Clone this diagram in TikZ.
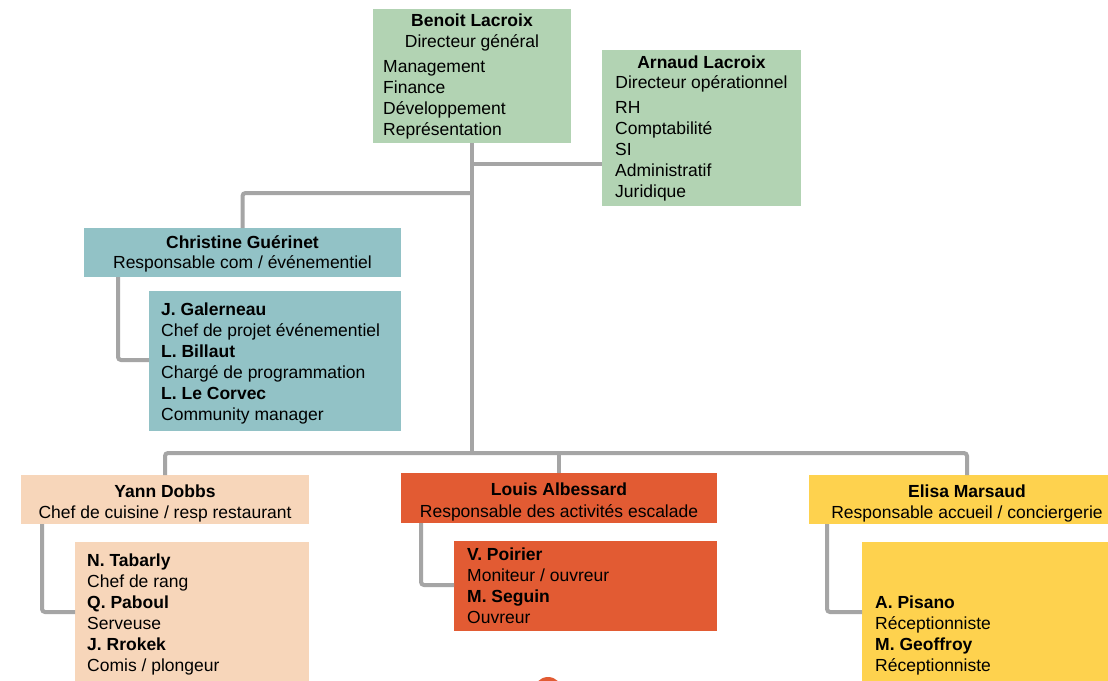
\documentclass[tikz,border=0pt]{standalone}
\usepackage{fontspec}
\setmainfont{Liberation Sans}
\usetikzlibrary{calc}
\definecolor{dirgreen}{RGB}{178,211,179}
\definecolor{comteal}{RGB}{146,194,198}
\definecolor{chefpeach}{RGB}{247,214,186}
\definecolor{escred}{RGB}{226,91,51}
\definecolor{accyellow}{RGB}{254,210,78}
\definecolor{linkgray}{RGB}{165,165,165}
\begin{document}
\begin{tikzpicture}[x=1pt,y=-1pt,
  box/.style={rectangle,inner sep=0pt,outer sep=0pt,anchor=north west},
  txt/.style={inner sep=0pt,font=\fontsize{17.5}{21}\selectfont},
  link/.style={draw=linkgray,line width=4pt,rounded corners=3pt}]
\clip (0,0) rectangle (1108,680);
\fill[white] (0,0) rectangle (1108,680);
\node[box,fill=dirgreen,minimum width=198pt,minimum height=134pt] (ceo) at (373,9) {};
\node[txt,anchor=base] (ceoname) at (472,27) {\bfseries Benoit Lacroix};
\node[txt,anchor=base] (ceorole) at (472,47) {Directeur général};
\node[txt,anchor=base west,align=left] (ceotasks) at (383,135.5) {Management\\Finance\\Développement\\Représentation};
\node[box,fill=dirgreen,minimum width=199pt,minimum height=156pt] (coo) at (602,50) {};
\node[txt,anchor=base] (cooname) at (701.5,68) {\bfseries Arnaud Lacroix};
\node[txt,anchor=base] (coorole) at (701.5,88) {Directeur opérationnel};
\node[txt,anchor=base west,align=left] (cootasks) at (615,197) {RH\\Comptabilité\\SI\\Administratif\\Juridique};
\node[box,fill=comteal,minimum width=317pt,minimum height=49pt] (com) at (84,228) {};
\node[txt,anchor=base] (comname) at (242.5,248) {\bfseries Christine Guérinet};
\node[txt,anchor=base] (comrole) at (242.5,268) {Responsable com / événementiel};
\node[box,fill=comteal,minimum width=252pt,minimum height=140pt] (comteam) at (149,291) {};
\node[txt,anchor=base west,align=left] (comlist) at (161,420) {\bfseries J. Galerneau\\Chef de projet événementiel\\\bfseries L. Billaut\\Chargé de programmation\\\bfseries L. Le Corvec\\Community manager};
\node[box,fill=chefpeach,minimum width=288pt,minimum height=49pt] (chef) at (21,475) {};
\node[txt,anchor=base] (chefname) at (165,497) {\bfseries Yann Dobbs};
\node[txt,anchor=base] (chefrole) at (165,518) {Chef de cuisine / resp restaurant};
\node[box,fill=chefpeach,minimum width=234pt,minimum height=140pt] (chefteam) at (75,542) {};
\node[txt,anchor=base west,align=left] (cheflist) at (87,671) {\bfseries N. Tabarly\\Chef de rang\\\bfseries Q. Paboul\\Serveuse\\\bfseries J. Rrokek\\Comis / plongeur};
\node[box,fill=escred,minimum width=316pt,minimum height=50pt] (esc) at (401,473) {};
\node[txt,anchor=base] (escname) at (559,495) {\bfseries Louis Albessard};
\node[txt,anchor=base] (escrole) at (559,517) {Responsable des activités escalade};
\node[box,fill=escred,minimum width=263pt,minimum height=90pt] (escteam) at (454,541) {};
\node[txt,anchor=base west,align=left] (esclist) at (467,623) {\bfseries V. Poirier\\Moniteur / ouvreur\\\bfseries M. Seguin\\Ouvreur};
\node[box,fill=accyellow,minimum width=316pt,minimum height=49pt] (acc) at (809,475) {};
\node[txt,anchor=base] (accname) at (967,497) {\bfseries Elisa Marsaud};
\node[txt,anchor=base] (accrole) at (967,518) {Responsable accueil / conciergerie};
\node[box,fill=accyellow,minimum width=262pt,minimum height=140pt] (accteam) at (862,542) {};
\node[txt,anchor=base west,align=left] (acclist) at (875,671) {\bfseries A. Pisano\\Réceptionniste\\\bfseries M. Geoffroy\\Réceptionniste};
\fill[escred] (548,691) circle (14);
\coordinate (bus) at (472,453);
\coordinate (cooj) at (472,164);
\coordinate (comj) at (472,193);
\draw[link] (ceo.south) -- (bus);
\draw[link] (cooj) -- (cooj -| coo.west);
\draw[link] (comj) -| (com.north);
\draw[link] (chef.north) |- (bus) -| (acc.north);
\draw[link] (bus -| esc.north) -- (esc.north);
\draw[link] ($(com.south west)+(34,0)$) |- ($(comteam.north west)+(0,69)$);
\draw[link] ($(chef.south west)+(21,0)$) |- ($(chefteam.north west)+(0,70)$);
\draw[link] ($(esc.south west)+(20,0)$) |- ($(escteam.north west)+(0,44)$);
\draw[link] ($(acc.south west)+(18,0)$) |- ($(accteam.north west)+(0,70)$);
\end{tikzpicture}
\end{document}
